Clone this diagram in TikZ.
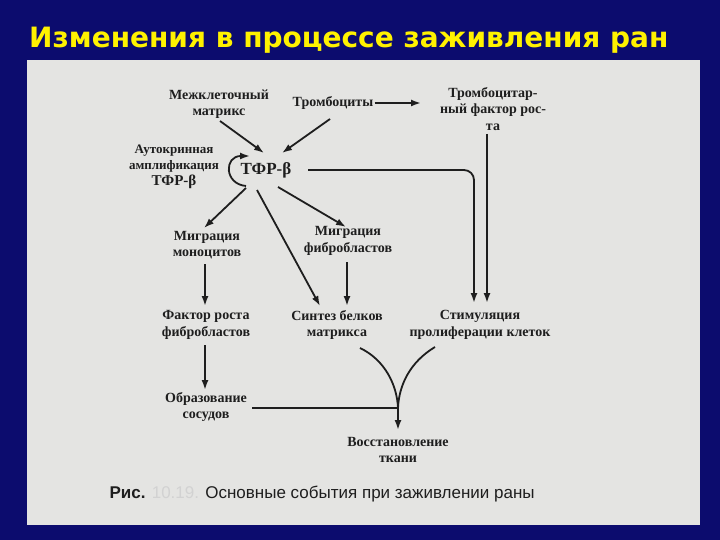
\documentclass[tikz,border=0pt]{standalone}
\usepackage{fontspec}
\setmainfont{Liberation Serif}
\newfontfamily\sansf{Liberation Sans}
\newfontfamily\titlef{DejaVu Sans}
\usetikzlibrary{arrows.meta}
\definecolor{bgblue}{HTML}{0C0C6E}
\definecolor{panel}{HTML}{E4E4E2}
\definecolor{ink}{HTML}{1E1E1E}
\begin{document}
\begin{tikzpicture}[x=1pt,y=-1pt,
  lbl/.style={align=center,font=\fontsize{14}{16.5}\selectfont\bfseries,text=ink,inner sep=1pt},
  arr/.style={draw=ink,line width=1.8pt,-{Latex[length=10pt,width=7pt]}},
  ln/.style={draw=ink,line width=1.8pt}]
\useasboundingbox (0,0) rectangle (720,540);
\fill[bgblue] (0,0) rectangle (720,540);
\fill[panel] (27,60) rectangle (700,525);
\node[font=\titlef\bfseries\fontsize{28}{30}\selectfont,text=yellow,anchor=west,inner sep=0pt] (title) at (29,40) {Изменения в процессе заживления ран};
\node[lbl] (mat) at (219,104) {Межклеточный\\матрикс};
\node[lbl] (trb) at (333,103) {Тромбоциты};
\node[lbl] (pdgf) at (493,109) {Тромбоцитар-\\ный фактор рос-\\та};
\node[lbl,font=\fontsize{13}{16}\selectfont\bfseries] (auto) at (174,167) {Аутокринная\\амплификация\\\fontsize{15}{17}\selectfont ТФР-β};
\node[lbl,font=\fontsize{17}{19}\selectfont\bfseries] (tgf) at (266,170) {ТФР-β};
\node[lbl] (mmon) at (207,245) {Миграция\\моноцитов};
\node[lbl] (mfib) at (348,241) {Миграция\\фибробластов};
\node[lbl] (fgf) at (206,325) {Фактор роста\\фибробластов};
\node[lbl] (syn) at (337,325) {Синтез белков\\матрикса};
\node[lbl] (stim) at (480,325) {Стимуляция\\пролиферации клеток};
\node[lbl] (vess) at (206,407) {Образование\\сосудов};
\node[lbl] (rest) at (398,450) {Восстановление\\ткани};
\node[anchor=west,font=\sansf\fontsize{17}{19}\selectfont,text=ink] (cap) at (106,494) {\textbf{Рис.} \textcolor{gray!35}{10.19.} Основные события при заживлении раны};
\coordinate (m) at (398,408);
\draw[arr] (220,121) -- (264,153);
\draw[arr] (330,119) -- (282,153);
\draw[arr] (trb.east) -- (421,103);
\draw[arr] (246,186) .. controls (224,184) and (224,156) .. (250,156);
\draw[arr] (308,170) -- (464,170) to[out=0,in=90] (474,180) -- (474,303);
\draw[arr] (487,134) -- (487,303);
\draw[arr] (246,188) -- (204,228);
\draw[arr] (278,187) -- (346,227);
\draw[arr] (257,190) -- (320,306);
\draw[arr] (205,264) -- (205,306);
\draw[arr] (347,262) -- (347,306);
\draw[arr] (205,345) -- (205,390);
\draw[ln] (252,408) -- (m);
\draw[ln] (360,348) .. controls (385,360) and (397,385) .. (m);
\draw[ln] (435,347) .. controls (410,362) and (399,385) .. (m);
\draw[arr] (m) -- (398,430);
\end{tikzpicture}
\end{document}
